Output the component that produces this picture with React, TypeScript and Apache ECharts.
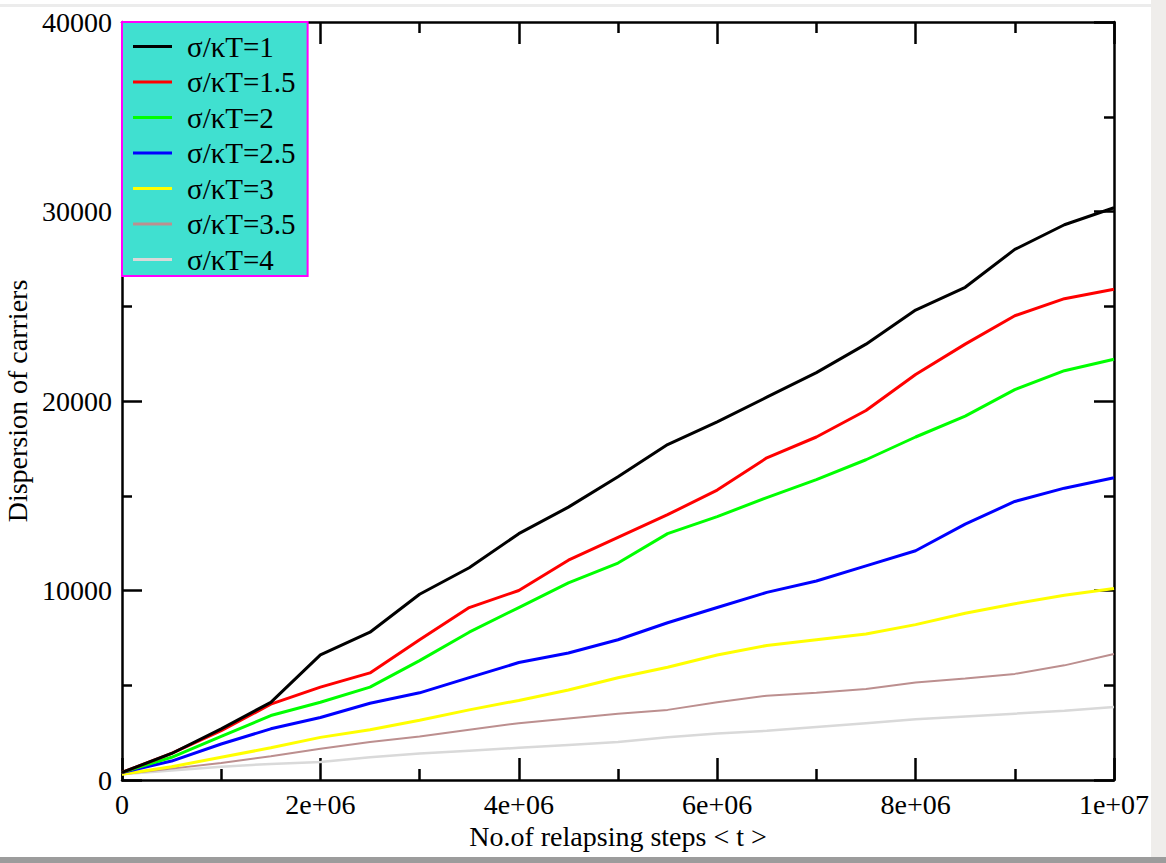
import React, { useEffect, useRef } from "react";
import * as echarts from "echarts";

const stepsX = [
  0, 5e5, 1e6, 1.5e6, 2e6, 2.5e6, 3e6, 3.5e6, 4e6, 4.5e6, 5e6, 5.5e6, 6e6, 6.5e6, 7e6, 7.5e6, 8e6, 8.5e6,
  9e6, 9.5e6, 1e7,
];

const seriesNames = [
  "σ/κT=1",
  "σ/κT=1.5",
  "σ/κT=2",
  "σ/κT=2.5",
  "σ/κT=3",
  "σ/κT=3.5",
  "σ/κT=4",
];

const s1 = [400, 1400, 2700, 4100, 6600, 7800, 9800, 11200, 13000, 14400, 16000, 17700, 18900, 20200, 21500, 23000, 24800, 26000, 28000, 29300, 30200];
const s15 = [400, 1400, 2600, 4000, 4900, 5650, 7400, 9100, 10000, 11600, 12800, 14000, 15300, 17000, 18100, 19500, 21400, 23000, 24500, 25400, 25900];
const s2 = [400, 1200, 2300, 3400, 4100, 4900, 6300, 7800, 9100, 10400, 11450, 13000, 13900, 14900, 15850, 16900, 18100, 19200, 20600, 21600, 22200];
const s25 = [400, 1000, 1900, 2700, 3300, 4050, 4600, 5400, 6200, 6700, 7400, 8300, 9100, 9900, 10500, 11300, 12100, 13500, 14700, 15400, 15950];
const s3 = [300, 700, 1200, 1700, 2250, 2650, 3150, 3700, 4200, 4750, 5400, 5950, 6600, 7100, 7400, 7700, 8200, 8800, 9300, 9750, 10100];
const s35 = [300, 600, 900, 1250, 1650, 2000, 2300, 2650, 3000, 3250, 3500, 3700, 4100, 4450, 4600, 4800, 5150, 5350, 5600, 6050, 6650];
const s4 = [300, 500, 700, 850, 950, 1200, 1400, 1550, 1700, 1850, 2000, 2250, 2450, 2600, 2800, 3000, 3200, 3350, 3500, 3650, 3850];

const allValues = [s1, s15, s2, s25, s3, s35, s4];
const colors = ["#000000", "#ff0000", "#00ff00", "#0000ff", "#ffff00", "#bc8f8f", "#d9d9d9"];
const widths = [3, 3, 3, 3, 3, 2, 2.5];

const xTickLabels = ["0", "2e+06", "4e+06", "6e+06", "8e+06", "1e+07"];
const yTickLabels = ["0", "10000", "20000", "30000", "40000"];

const FONT = "'Liberation Serif', 'Times New Roman', serif";

export default function App() {
  const ref = useRef<HTMLDivElement>(null);
  useEffect(() => {
    if (!ref.current) return;
    const chart = echarts.init(ref.current, undefined, { renderer: "svg" });
    const axisLine = { show: true, onZero: false, lineStyle: { color: "#000", width: 2.5 } };
    const xTick = { show: true, inside: true, length: 22, lineStyle: { color: "#000", width: 2.5 } };
    const xMinor = { show: true, splitNumber: 2, length: 11, lineStyle: { color: "#000", width: 2.5 } };
    const yTick = { show: true, inside: true, length: 20, lineStyle: { color: "#000", width: 2.5 } };
    const yMinor = { show: true, splitNumber: 2, length: 10, lineStyle: { color: "#000", width: 2.5 } };
    const xFmt = (v: number) => xTickLabels[Math.round(v / 2e6)] ?? "";
    const yFmt = (v: number) => yTickLabels[Math.round(v / 10000)] ?? "";
    chart.setOption({
      animation: false,
      backgroundColor: "#ffffff",
      grid: { left: 122, top: 22, right: 52, bottom: 83, containLabel: false, outerBoundsMode: "none" },
      graphic: [
        { type: "rect", shape: { x: 0, y: 4, width: 1166, height: 3 }, style: { fill: "#ececec" }, silent: true },
        { type: "rect", shape: { x: 1151, y: 0, width: 15, height: 863 }, style: { fill: "#efedeb" }, silent: true },
        { type: "rect", shape: { x: 0, y: 857, width: 1166, height: 6 }, style: { fill: "#9c9c9c" }, silent: true },
      ],
      legend: {
        left: 122,
        top: 22,
        orient: "vertical",
        backgroundColor: "#40e0d0",
        borderColor: "#ff00ff",
        borderWidth: 2,
        borderRadius: 0,
        padding: [10, 12, 2, 11],
        icon: "rect",
        itemWidth: 39,
        itemHeight: 3,
        itemGap: 6.5,
        data: seriesNames,
        textStyle: { fontFamily: FONT, fontSize: 29, color: "#000", padding: [0, 0, 0, 10] },
      },
      xAxis: [
        {
          type: "value",
          min: 0,
          max: 1e7,
          interval: 2e6,
          position: "bottom",
          axisLine,
          axisTick: xTick,
          minorTick: xMinor,
          splitLine: { show: false },
          axisLabel: { formatter: xFmt, fontFamily: FONT, fontSize: 28, color: "#000", margin: 10 },
          name: "No.of relapsing steps < t >",
          nameLocation: "middle",
          nameGap: 35,
          nameTextStyle: { fontFamily: FONT, fontSize: 28, color: "#000" },
        },
        {
          type: "value",
          min: 0,
          max: 1e7,
          interval: 2e6,
          position: "top",
          axisLine,
          axisTick: xTick,
          minorTick: xMinor,
          splitLine: { show: false },
          axisLabel: { show: false },
        },
      ],
      yAxis: [
        {
          type: "value",
          min: 0,
          max: 40000,
          interval: 10000,
          position: "left",
          axisLine,
          axisTick: yTick,
          minorTick: yMinor,
          splitLine: { show: false },
          axisLabel: { formatter: yFmt, fontFamily: FONT, fontSize: 28, color: "#000", margin: 10 },
          name: "Dispersion of carriers",
          nameLocation: "middle",
          nameGap: 83,
          nameTextStyle: { fontFamily: FONT, fontSize: 28, color: "#000" },
        },
        {
          type: "value",
          min: 0,
          max: 40000,
          interval: 10000,
          position: "right",
          axisLine,
          axisTick: yTick,
          minorTick: yMinor,
          splitLine: { show: false },
          axisLabel: { show: false },
        },
      ],
      series: seriesNames.map((name, i) => ({
        name,
        type: "line",
        xAxisIndex: 0,
        yAxisIndex: 0,
        symbol: "none",
        showSymbol: false,
        smooth: false,
        z: 10 - i,
        data: stepsX.map((x, j) => [x, allValues[i][j]]),
        lineStyle: { color: colors[i], width: widths[i] },
        itemStyle: { color: colors[i] },
      })),
    });
    return () => chart.dispose();
  }, []);
  return (
    <div
      ref={ref}
      style={{ position: "absolute", left: 0, top: 0, width: 1166, height: 863 }}
    />
  );
}
